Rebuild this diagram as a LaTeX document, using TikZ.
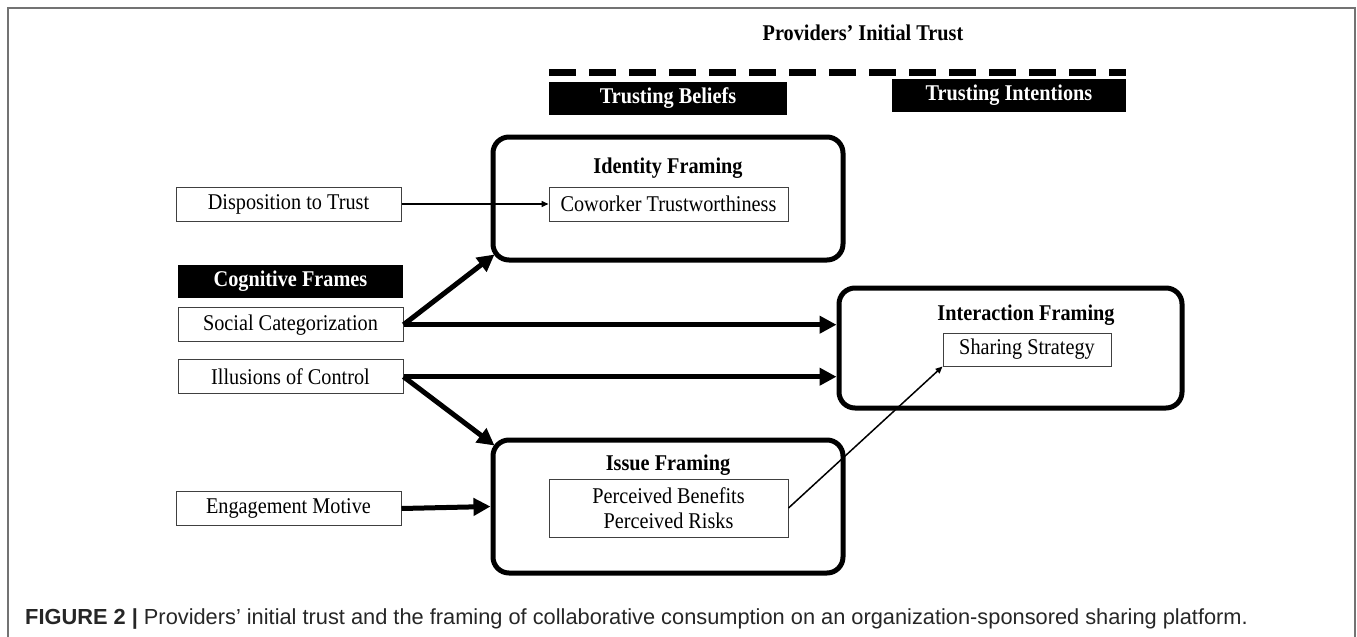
\documentclass[tikz,border=0pt]{standalone}
\usepackage{fontspec}
\setmainfont{Liberation Serif}[FakeStretch=0.9]
\newfontfamily\capfont{Liberation Sans}
\usetikzlibrary{arrows.meta,positioning}
\newcommand\diagfont{\fontsize{22.5}{25}\selectfont}

\begin{document}
\begin{tikzpicture}[x=1pt,y=-1pt,font=\diagfont,
    frame/.style={draw,line width=5pt,rounded corners=16pt},
    var/.style={draw=black!75,line width=1pt,minimum height=34pt,inner sep=0pt},
    tag/.style={fill=black,text=white,font=\diagfont\bfseries,minimum height=33pt,inner sep=0pt},
    title/.style={font=\diagfont\bfseries,anchor=base},
    bigarrow/.style={line width=5pt,-{Triangle[length=17pt,width=17pt]}},
    thinarrow/.style={line width=1.5pt,-{Triangle[length=7pt,width=6pt]}}]
\useasboundingbox (0,0) rectangle (1357,637);
\draw[black!55,line width=1.5pt] (8,660) -- (8,8) -- (1355,8) -- (1355,660);

% trust heading
\node[title] (trust) at (863,40) {Providers' Initial Trust};
\coordinate (dashL) at (549,72);
\coordinate (dashR) at (1126,72);
\draw[line width=7pt,dash pattern=on 27pt off 13pt] (dashL) -- (dashR);
\node[tag,minimum width=238pt] (beliefs) at (668,98.5) {Trusting Beliefs};
\node[tag,minimum width=234pt] (intent) at (1009,95) {Trusting Intentions};

% framings
\node[frame,minimum width=350pt,minimum height=123pt] (ident) at (668,198.5) {};
\node[frame,minimum width=343pt,minimum height=120pt] (inter) at (1010.5,348) {};
\node[frame,minimum width=350pt,minimum height=133pt] (issue) at (668,506.5) {};
\node[title] (identT) at (668,173) {Identity Framing};
\node[var,minimum width=239pt] (cowork) at (668.5,204) {Coworker Trustworthiness};
\node[title] (interT) at (1026,320) {Interaction Framing};
\node[var,minimum width=168pt,minimum height=33pt] (sharing) at (1027,349.5) {Sharing Strategy};
\node[title] (issueT) at (668,470) {Issue Framing};
\node[var,minimum width=239pt,minimum height=58pt,align=center] (percv) at (668.5,508) {Perceived Benefits\\Perceived Risks};

% antecedents
\node[var,minimum width=225pt] (disp) at (288.5,204) {Disposition to Trust};
\node[tag,minimum width=225pt] (cogn) at (290.5,281.5) {Cognitive Frames};
\node[var,minimum width=225pt,below=9pt of cogn] (social) {Social Categorization};
\node[var,minimum width=225pt,below=17pt of social] (illus) {Illusions of Control};
\node[var,minimum width=225pt] (engage) at (288.5,508.5) {Engagement Motive};

\path[bigarrow]
    (social.east) edge ([xshift=4pt,yshift=8pt]ident.south west)
    (social.east) edge (social.east -| inter.west)
    (illus.east) edge (illus.east -| inter.west)
    (illus.east) edge ([xshift=4pt,yshift=-8pt]issue.north west)
    (engage.east) edge (issue.west);
\path[thinarrow]
    (disp) edge (cowork)
    (percv.east) edge (sharing.south west);

\node[anchor=base west,inner sep=0pt,text=black!85,font=\capfont\fontsize{21.8}{24}\selectfont] (caption) at (25,624)
    {\textbf{FIGURE 2 |} Providers’ initial trust and the framing of collaborative consumption on an organization-sponsored sharing platform.};
\end{tikzpicture}
\end{document}
